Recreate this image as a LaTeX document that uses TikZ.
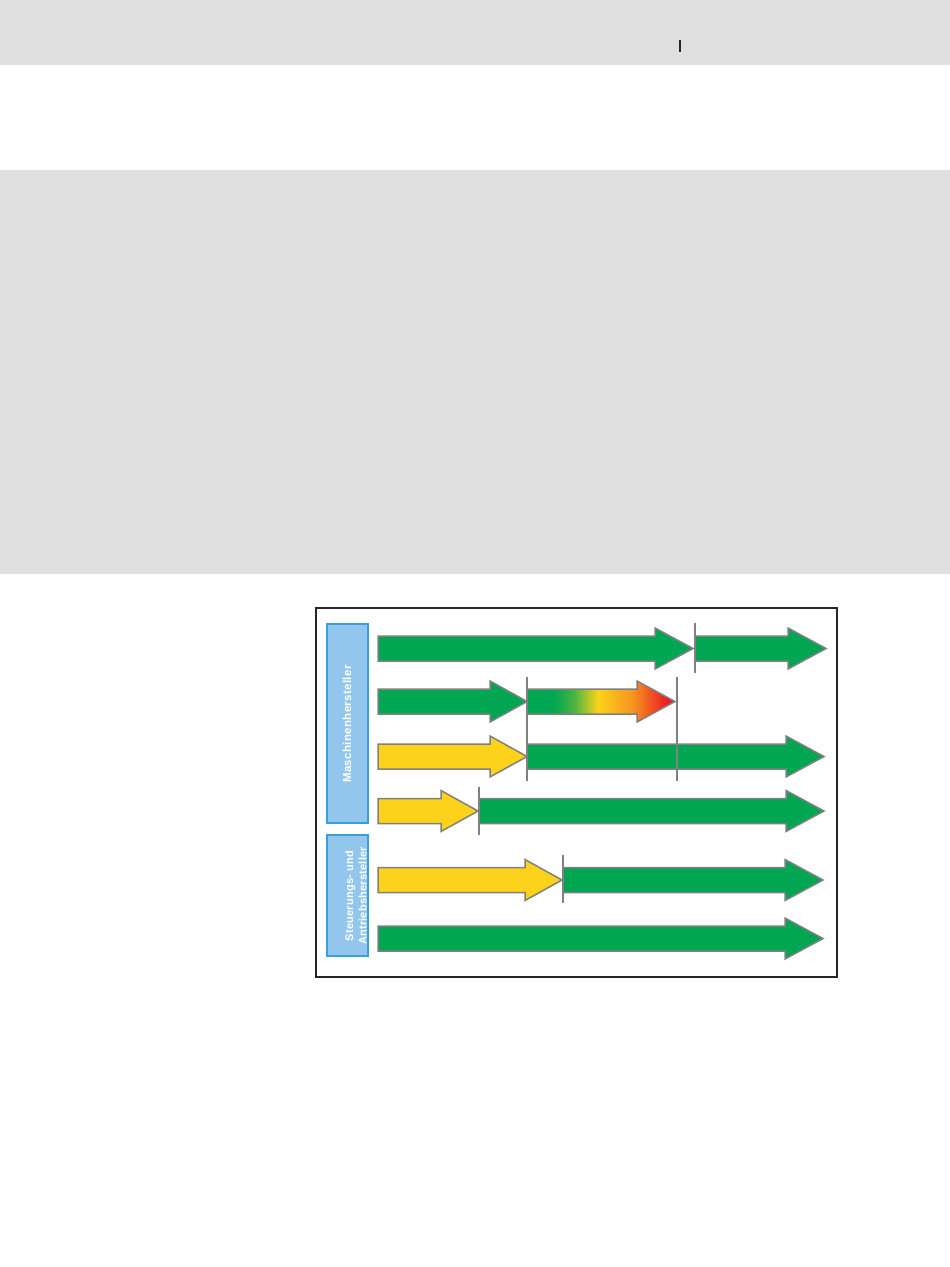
\documentclass[tikz,border=0pt]{standalone}
\usepackage{fontspec}
\setmainfont{Liberation Sans}
\newfontfamily\herstfont[LetterSpace=3]{Liberation Sans}
\newfontfamily\steuerfont[LetterSpace=2]{Liberation Sans}
\definecolor{seite}{RGB}{224,224,224}
\definecolor{gruen}{RGB}{0,166,81}
\definecolor{gelb}{RGB}{252,211,26}
\definecolor{orange}{RGB}{246,146,30}
\definecolor{rot}{RGB}{237,28,36}
\definecolor{hellblau}{RGB}{147,198,237}
\definecolor{blaurand}{RGB}{58,160,219}
\definecolor{randgrau}{RGB}{128,128,128}
\pgfdeclarehorizontalshading{gruenrot}{100bp}{color(0bp)=(gruen); color(34bp)=(gruen);
  color(41bp)=(gruen!70!gelb); color(49bp)=(gelb); color(61bp)=(orange); color(72bp)=(rot);
  color(100bp)=(rot)}
% #2 start, #3 head base, #4 tip, #5 middle
\newcommand{\pfeil}[5][]{%
  \draw[pfeilrand,#1] (#2,#5-12.5) -- (#3,#5-12.5) -- (#3,#5-20.5) -- (#4,#5)
    -- (#3,#5+20.5) -- (#3,#5+12.5) -- (#2,#5+12.5) -- cycle;}

\begin{document}
\begin{tikzpicture}[x=1pt,y=-1pt,
    pfeilrand/.style={draw=randgrau,line width=1.5pt,line join=miter},
    trenn/.style={draw=randgrau,line width=2pt},
    kasten/.style={draw=blaurand,fill=hellblau,line width=2.5pt}]
  \useasboundingbox (0,0) rectangle (950,1267);
  \fill[seite] (0,0) rectangle (950,65);
  \fill[seite] (0,170) rectangle (950,574);
  \draw[line width=1.2pt,black!85] (680,40) -- (680,52);

  \draw[line width=1.2pt,black!85] (316,608) rectangle (837,977);

  \draw[kasten] (327,624) rectangle (368,823);
  \draw[kasten] (327,835) rectangle (368,956);
  \node[rotate=90,text=white,font=\herstfont\bfseries\fontsize{11.5}{11.5}\selectfont]
    (masch) at (347,724) {Maschinenhersteller};
  \node[rotate=90,text=white,align=center,
    font=\steuerfont\bfseries\fontsize{11}{13.5}\selectfont]
    (steuer) at (356,896) {Steuerungs- und\\Antriebshersteller};

  \pfeil[fill=gruen]{378}{655}{693}{648.5}
  \pfeil[fill=gruen]{695}{788}{826}{648.5}

  \pfeil[fill=gruen]{378}{490}{527}{701.5}
  \pfeil[shade,shading=gruenrot]{527}{637}{675}{701.5}

  \pfeil[fill=gelb]{378}{490}{527}{756.5}
  \pfeil[fill=gruen]{527}{786}{824}{756.5}

  \pfeil[fill=gelb]{378}{441}{478}{811}
  \pfeil[fill=gruen]{479}{786}{824}{811}

  \pfeil[fill=gelb]{378}{525}{562}{880}
  \pfeil[fill=gruen]{563}{785}{823}{880}

  \pfeil[fill=gruen]{378}{785}{823}{938.5}

  \draw[trenn] (695,623) -- (695,673);
  \draw[trenn] (527,677) -- (527,781);
  \draw[trenn] (677,677) -- (677,781);
  \draw[trenn] (479,787) -- (479,835);
  \draw[trenn] (563,855) -- (563,903);
\end{tikzpicture}
\end{document}
